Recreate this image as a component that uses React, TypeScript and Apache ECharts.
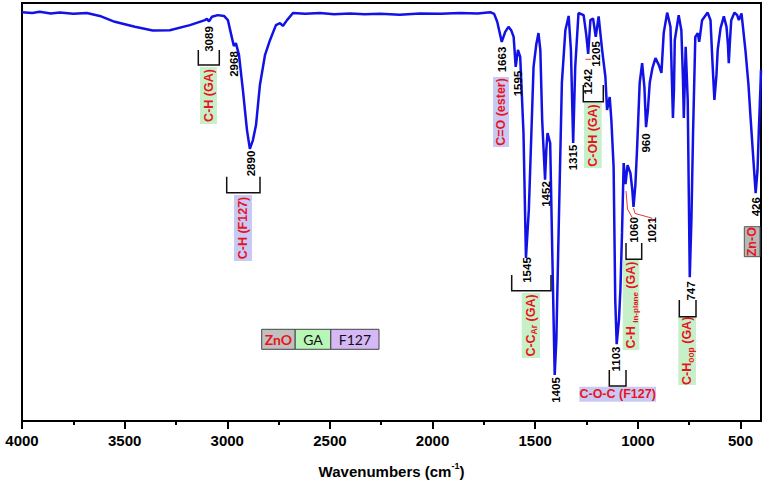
import React, { useEffect, useRef } from "react";
import * as echarts from "echarts";

// ---- Data ----
const wavenumbers = [
  4000, 3950, 3914, 3860, 3816, 3750, 3684, 3621, 3548, 3450, 3363, 3280, 3182, 3109, 3099, 3089, 3075, 3046, 3016, 2997,
  2977, 2968, 2958, 2943, 2924, 2904, 2890, 2875, 2860, 2841, 2816, 2792, 2763, 2743, 2729, 2709, 2680, 2620, 2548, 2480,
  2402, 2330, 2256, 2160, 2061, 1960, 1866, 1780, 1719, 1700, 1685, 1663, 1646, 1630, 1617, 1605, 1595, 1584, 1573, 1557,
  1545, 1531, 1524, 1508, 1495, 1484, 1475, 1466, 1452, 1446, 1440, 1427, 1417, 1405, 1397, 1386, 1370, 1353, 1337, 1326,
  1315, 1305, 1289, 1264, 1251, 1242, 1231, 1218, 1205, 1191, 1174, 1158, 1150, 1137, 1129, 1118, 1110, 1103, 1092, 1085,
  1077, 1069, 1060, 1050, 1036, 1027, 1021, 1012, 1004, 991, 979, 968, 960, 951, 942, 929, 914, 898, 885, 874,
  857, 841, 834, 829, 824, 820, 801, 788, 780, 776, 771, 767, 757, 747, 739, 731, 720, 708, 701, 687,
  660, 646, 637, 627, 617, 611, 597, 581, 568, 561, 557, 551, 545, 529, 516, 508, 495, 476, 461, 451,
  437, 426, 417, 411, 402, 400,
];
const transmittance = [
  97.8, 97.6, 97.9, 97.5, 97.7, 97.4, 97.6, 96.9, 95.5, 94.3, 93.4, 93.5, 94.7, 95.9, 96.2, 95.6, 96.7, 97.1, 96.9, 95.9,
  91.6, 89.7, 90.4, 87.6, 79.2, 69.6, 65.1, 67.2, 70.8, 80.4, 87.6, 91.1, 94.7, 95.2, 94.5, 95.9, 97.6, 97.4, 97.6, 97.3,
  97.5, 97.3, 97.4, 97.2, 97.5, 97.4, 97.6, 97.5, 97.8, 97.4, 95.5, 90.7, 93.1, 94.3, 93.5, 91.9, 84.7, 88.8, 87.1, 68.9,
  39.0, 50.5, 60.8, 84.7, 90.0, 92.8, 88.8, 72.0, 57.7, 64.8, 68.9, 66.5, 40.9, 11.0, 19.4, 45.0, 80.9, 93.5, 96.9, 88.8,
  66.5, 84.7, 97.6, 97.1, 92.3, 87.8, 95.9, 96.3, 91.9, 96.8, 88.8, 82.3, 74.4, 77.5, 72.0, 60.8, 28.9, 18.4, 24.2, 31.3,
  45.0, 61.7, 56.7, 61.2, 59.3, 55.3, 51.2, 56.5, 64.8, 80.9, 85.6, 79.9, 70.3, 74.4, 80.9, 84.4, 86.8, 85.2, 83.3, 92.8,
  97.7, 94.3, 81.6, 72.5, 79.2, 91.1, 97.1, 93.5, 81.6, 72.5, 81.6, 89.5, 76.8, 34.4, 48.1, 68.9, 91.9, 92.8, 90.7, 95.9,
  97.7, 95.9, 86.4, 76.8, 82.8, 88.8, 94.0, 96.8, 94.3, 90.0, 85.6, 91.1, 95.9, 97.7, 97.1, 95.9, 97.5, 88.8, 80.4, 72.7,
  62.4, 54.5, 60.0, 68.9, 80.9, 84.0,
];
const majorTicks = [4000, 3500, 3000, 2500, 2000, 1500, 1000, 500];
const minorTicks = [3750, 3250, 2750, 2250, 1750, 1250, 750];
const peakNumbers = [
  "3089", "2968", "2890", "1663", "1595", "1545", "1452", "1405", "1315",
  "1242", "1205", "1103", "1060", "1021", "960", "747", "426",
];
const assignmentTexts = [
  "C-H (GA)",
  "C-H (F127)",
  "C=O (ester)",
  "C-OH (GA)",
  "C-C{s|Ar} (GA)",
  "C-H {s|in-plane} (GA)",
  "C-H{s|oop} (GA)",
  "Zn-O",
  "C-O-C (F127)",
];
const legendItems = ["ZnO", "GA", "F127"];

// ---- Layout / style (pixel positions of annotations) ----
const FONT = "'Liberation Sans', Arial, sans-serif";
const RED = "#e8141c";
const GREEN_BG = "#c8f0c8";
const PURPLE_BG = "#c9c9f5";
const GRAY_BG = "#b8b8b8";

const peakPos: [number, number][] = [
  [209, 39], [234, 64], [250.5, 163.5], [501.5, 59.5], [517.5, 83.5], [526.7, 270], [545.5, 194],
  [555.8, 390], [573.3, 157.5], [588, 81.7], [596, 54], [616, 359], [633.5, 230], [652, 230],
  [646.2, 143], [690.5, 291], [756.2, 206.7],
];
const bracketPos: [number, number, number, number][] = [
  [198.3, 219.3, 50, 65],
  [226.7, 260, 176.7, 192.7],
  [511.7, 551, 275, 290.7],
  [583.3, 603.3, 85, 101.7],
  [609.3, 626, 370, 386],
  [626, 641.7, 243, 259.3],
  [679.3, 696, 300, 316.7],
];
// [x1, y1, x2, y2, bg, rotated, bordered]
const assignmentBoxes: [number, number, number, number, string, boolean, boolean][] = [
  [200, 67, 217, 124, GREEN_BG, true, false],
  [234, 195, 252, 261, PURPLE_BG, true, false],
  [493, 77, 509, 147, PURPLE_BG, true, false],
  [584, 103, 601.7, 168, GREEN_BG, true, false],
  [521.7, 293, 540, 358, GREEN_BG, true, false],
  [622.7, 260, 639.3, 350, GREEN_BG, true, false],
  [678.3, 316.7, 696, 385, GREEN_BG, true, false],
  [744.3, 226.7, 760, 256.7, GRAY_BG, true, true],
  [579.3, 386.7, 656, 401.7, PURPLE_BG, false, false],
];
const leaderLines: [number, number][][] = [
  [[626, 191], [627.5, 209], [633, 219]],
  [[633.5, 208], [635, 213.5], [651.7, 218], [652.3, 221.5]],
  [[585.5, 59.3], [591, 59.3]],
];
const legendBoxes: [number, number, string, string, string][] = [
  [261.7, 295.2, "#c0c0c0", RED, "bold"],
  [295.2, 330.8, "#b8f6b8", "#111", "normal"],
  [330.8, 379, "#d6b8f7", "#111", "normal"],
];

export default function App() {
  const ref = useRef<HTMLDivElement>(null);

  useEffect(() => {
    if (!ref.current) return;
    const chart = echarts.init(ref.current, null, { renderer: "svg" });
    const data = wavenumbers.map((w, i) => [w, transmittance[i]]);

    const graphics: any[] = [];

    assignmentBoxes.forEach(([x1, y1, x2, y2, bg, rot, bordered], i) => {
      graphics.push({
        type: "rect",
        shape: { x: x1, y: y1, width: x2 - x1, height: y2 - y1 },
        style: { fill: bg, stroke: bordered ? "#555" : null, lineWidth: bordered ? 1 : 0 },
        z: 5,
      });
      graphics.push({
        type: "text",
        x: (x1 + x2) / 2,
        y: (y1 + y2) / 2,
        rotation: rot ? Math.PI / 2 : 0,
        style: {
          text: assignmentTexts[i],
          align: "center",
          verticalAlign: "middle",
          textAlign: "center",
          textVerticalAlign: "middle",
          fontSize: 12.5,
          fontWeight: "bold",
          fontFamily: FONT,
          fill: RED,
          lineHeight: 16,
          rich: {
            s: {
              fontSize: i === 5 ? 8 : 8.5,
              fontWeight: "bold",
              fontFamily: FONT,
              fill: RED,
              verticalAlign: "bottom",
              lineHeight: 9,
            },
          },
        },
        z: 6,
      });
    });

    peakNumbers.forEach((t, i) => {
      graphics.push({
        type: "text",
        x: peakPos[i][0],
        y: peakPos[i][1],
        rotation: Math.PI / 2,
        style: {
          text: t,
          align: "center",
          verticalAlign: "middle",
          textAlign: "center",
          textVerticalAlign: "middle",
          fontSize: 11.5,
          fontWeight: "bold",
          fontFamily: FONT,
          fill: "#000",
        },
        z: 6,
      });
    });

    bracketPos.forEach(([x1, x2, top, bottom]) => {
      graphics.push({
        type: "polyline",
        shape: { points: [[x1, top], [x1, bottom], [x2, bottom], [x2, top]] },
        style: { stroke: "#111", lineWidth: 1.5, fill: null },
        z: 6,
      });
    });

    leaderLines.forEach((pts) => {
      graphics.push({
        type: "polyline",
        shape: { points: pts },
        style: { stroke: "#e03a3a", lineWidth: 1, fill: null },
        z: 6,
      });
    });

    legendBoxes.forEach(([x1, x2, bg, color, weight], i) => {
      graphics.push({
        type: "rect",
        shape: { x: x1, y: 329.3, width: x2 - x1, height: 20 },
        style: { fill: bg, stroke: "#444", lineWidth: 1 },
        z: 5,
      });
      graphics.push({
        type: "text",
        x: (x1 + x2) / 2,
        y: 339.5,
        style: {
          text: legendItems[i],
          align: "center",
          verticalAlign: "middle",
          textAlign: "center",
          textVerticalAlign: "middle",
          fontSize: 14,
          fontWeight: weight,
          fontFamily: "Lato, 'Open Sans', sans-serif",
          fill: color,
        },
        z: 6,
      });
    });

    const option: any = {
      animation: false,
      backgroundColor: "#fff",
      grid: {
        left: 22,
        right: 5,
        top: 3,
        bottom: 61,
        show: true,
        borderColor: "#000",
        borderWidth: 2,
        backgroundColor: "transparent",
        outerBoundsMode: "none",
      },
      xAxis: [
        {
          type: "value",
          min: 400,
          max: 4000,
          inverse: true,
          position: "bottom",
          axisLine: { show: true, lineStyle: { color: "#000", width: 2 } },
          axisTick: { show: true, inside: false, length: 8, customValues: majorTicks, lineStyle: { color: "#000", width: 2 } },
          axisLabel: {
            customValues: majorTicks,
            formatter: (v: number) => String(v),
            color: "#000",
            fontSize: 15,
            fontWeight: "bold",
            fontFamily: FONT,
            margin: 12,
          },
          splitLine: { show: false },
          name: "Wavenumbers (cm{sup|-1})",
          nameLocation: "middle",
          nameGap: 40,
          nameTextStyle: {
            color: "#000",
            fontSize: 15,
            fontWeight: "bold",
            fontFamily: FONT,
            lineHeight: 20,
            rich: {
              sup: { fontSize: 9, fontWeight: "bold", fontFamily: FONT, color: "#000", verticalAlign: "top", lineHeight: 10 },
            },
          },
        },
        {
          type: "value",
          min: 400,
          max: 4000,
          inverse: true,
          position: "bottom",
          axisLine: { show: false },
          axisTick: { show: true, inside: false, length: 4, customValues: minorTicks, lineStyle: { color: "#000", width: 2 } },
          axisLabel: { show: false },
          splitLine: { show: false },
        },
      ],
      yAxis: { type: "value", min: 0, max: 100, show: false },
      series: [
        {
          type: "line",
          xAxisIndex: 0,
          yAxisIndex: 0,
          data,
          symbol: "none",
          showSymbol: false,
          lineStyle: { color: "#1212e6", width: 2.5 },
          z: 3,
        },
      ],
      graphic: graphics,
    };

    chart.setOption(option);
    return () => chart.dispose();
  }, []);

  return (
    <div
      ref={ref}
      style={{ position: "fixed", left: 0, top: 0, width: 766, height: 482, background: "#fff" }}
    />
  );
}
